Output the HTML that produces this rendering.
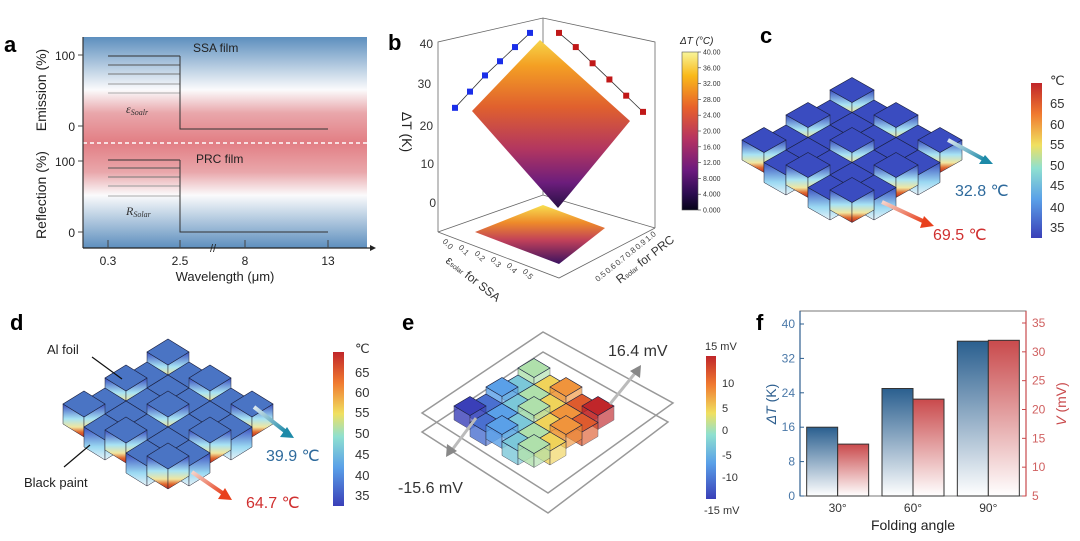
<!DOCTYPE html>
<html><head><meta charset="utf-8"><style>
html,body{margin:0;padding:0;background:#fff}
svg{display:block;font-family:"Liberation Sans",sans-serif}
</style></head><body>
<svg id="fig" width="1080" height="541" viewBox="0 0 1080 541" xmlns="http://www.w3.org/2000/svg">
<defs>
<linearGradient id="bgA" x1="0" y1="0" x2="0" y2="1">
<stop offset="0" stop-color="#5d8fbe"/><stop offset="0.25" stop-color="#fbfbfc"/><stop offset="0.36" stop-color="#e9a7ab"/><stop offset="0.5" stop-color="#e27e84"/><stop offset="0.64" stop-color="#e9a7ab"/><stop offset="0.75" stop-color="#fbfbfc"/><stop offset="1" stop-color="#5d8fbe"/>
</linearGradient>
<linearGradient id="inf" x1="0" y1="0" x2="0" y2="1">
<stop offset="0" stop-color="#f8f59a"/><stop offset="0.15" stop-color="#f9b91a"/><stop offset="0.35" stop-color="#e8612a"/><stop offset="0.55" stop-color="#b53362"/><stop offset="0.75" stop-color="#6b1a7e"/><stop offset="0.9" stop-color="#2a0b4e"/><stop offset="1" stop-color="#050318"/>
</linearGradient>
<linearGradient id="surf" x1="0" y1="0" x2="0" y2="1">
<stop offset="0" stop-color="#f6d54a"/><stop offset="0.15" stop-color="#f4a024"/><stop offset="0.4" stop-color="#e0602e"/><stop offset="0.65" stop-color="#b23660"/><stop offset="0.85" stop-color="#6c1d7c"/><stop offset="1" stop-color="#261043"/>
</linearGradient>
<linearGradient id="floor" x1="0" y1="0" x2="0" y2="1">
<stop offset="0" stop-color="#f8e050"/><stop offset="0.3" stop-color="#ee8a2a"/><stop offset="0.6" stop-color="#c0405a"/><stop offset="1" stop-color="#3a1260"/>
</linearGradient>
<linearGradient id="jet" x1="0" y1="0" x2="0" y2="1">
<stop offset="0" stop-color="#c0262a"/><stop offset="0.2" stop-color="#f07a30"/><stop offset="0.4" stop-color="#f0e060"/><stop offset="0.55" stop-color="#8fe0d0"/><stop offset="0.75" stop-color="#5aa0e8"/><stop offset="1" stop-color="#3a3fb8"/>
</linearGradient>
<linearGradient id="wallHot" x1="0" y1="0" x2="0" y2="1">
<stop offset="0" stop-color="#3a4ec0"/><stop offset="0.45" stop-color="#a8e4f4"/><stop offset="0.7" stop-color="#f0e6a0"/><stop offset="0.85" stop-color="#e06a30"/><stop offset="1" stop-color="#c02a22"/>
</linearGradient>
<linearGradient id="wallCool" x1="0" y1="0" x2="0" y2="1">
<stop offset="0" stop-color="#3a4ec0"/><stop offset="0.6" stop-color="#9ad8f2"/><stop offset="1" stop-color="#e8f4f8"/>
</linearGradient>
<linearGradient id="fBlue" x1="0" y1="0" x2="0" y2="1">
<stop offset="0" stop-color="#2a5f8f"/><stop offset="1" stop-color="#ffffff"/>
</linearGradient>
<linearGradient id="fRed" x1="0" y1="0" x2="0" y2="1">
<stop offset="0" stop-color="#c94a4c"/><stop offset="1" stop-color="#ffffff"/>
</linearGradient>
<linearGradient id="arrB" x1="0" y1="0" x2="1" y2="1"><stop offset="0" stop-color="#dde8ee"/><stop offset="1" stop-color="#1d8aa8"/></linearGradient>
<linearGradient id="arrR" x1="0" y1="0" x2="1" y2="1"><stop offset="0" stop-color="#f4d4cc"/><stop offset="1" stop-color="#e8401c"/></linearGradient>
</defs>

<!-- Panel a -->
<g>
<text x="4" y="52" font-size="22" font-weight="bold">a</text>
<rect x="83" y="37" width="284" height="211" fill="url(#bgA)"/>
<line x1="83" y1="143" x2="367" y2="143" stroke="#fff" stroke-width="1.5" stroke-dasharray="4,3"/>
<line x1="83" y1="37" x2="83" y2="248" stroke="#333" stroke-width="1.2"/>
<line x1="83" y1="248" x2="370" y2="248" stroke="#222" stroke-width="1.2"/>
<polygon points="370,245 376,248 370,251" fill="#222"/>
<g stroke="#444" stroke-width="1">
<line x1="108" y1="240" x2="108" y2="248"/><line x1="180" y1="240" x2="180" y2="248"/><line x1="245" y1="240" x2="245" y2="248"/><line x1="328" y1="240" x2="328" y2="248"/>
<line x1="78" y1="55" x2="83" y2="55"/><line x1="78" y1="126" x2="83" y2="126"/><line x1="78" y1="161" x2="83" y2="161"/><line x1="78" y1="232" x2="83" y2="232"/>
</g>
<text x="210" y="252" font-size="11" fill="#222">//</text>
<g font-size="12" fill="#222" text-anchor="end">
<text x="75" y="60">100</text><text x="75" y="131">0</text><text x="75" y="166">100</text><text x="75" y="237">0</text>
</g>
<g font-size="12" fill="#222" text-anchor="middle">
<text x="108" y="265">0.3</text><text x="180" y="265">2.5</text><text x="245" y="265">8</text><text x="328" y="265">13</text>
</g>
<text x="225" y="281" font-size="13" fill="#222" text-anchor="middle">Wavelength (μm)</text>
<text transform="translate(46,90) rotate(-90)" font-size="14" fill="#222" text-anchor="middle">Emission (%)</text>
<text transform="translate(46,195) rotate(-90)" font-size="14" fill="#222" text-anchor="middle">Reflection (%)</text>
<text x="193" y="52" font-size="12" fill="#222">SSA film</text>
<text x="196" y="163" font-size="12" fill="#222">PRC film</text>
<text x="126" y="113" font-size="12" font-style="italic" font-family="Liberation Serif,serif" fill="#333">ε<tspan font-size="8" dy="2">Soalr</tspan></text>
<text x="126" y="215" font-size="12" font-style="italic" font-family="Liberation Serif,serif" fill="#333">R<tspan font-size="8" dy="2">Solar</tspan></text>
<g stroke-width="1" fill="none">
<line x1="108" y1="56" x2="180" y2="56" stroke="#333"/><line x1="108" y1="65" x2="180" y2="65" stroke="#555"/><line x1="108" y1="74" x2="180" y2="74" stroke="#777"/><line x1="108" y1="84" x2="180" y2="84" stroke="#999"/><line x1="108" y1="93" x2="180" y2="93" stroke="#aaa"/>
<polyline points="180,56 180,129 328,129" stroke="#333"/>
</g>
<g stroke-width="1" fill="none">
<line x1="108" y1="160" x2="180" y2="160" stroke="#333"/><line x1="108" y1="168" x2="180" y2="168" stroke="#555"/><line x1="108" y1="177" x2="180" y2="177" stroke="#777"/><line x1="108" y1="186" x2="180" y2="186" stroke="#999"/><line x1="108" y1="196" x2="180" y2="196" stroke="#aaa"/>
<polyline points="180,160 180,232 328,232" stroke="#333"/>
</g>
</g>

<!-- Panel b -->
<g>
<text x="388" y="50" font-size="22" font-weight="bold">b</text>
<g stroke="#666" stroke-width="0.8" fill="none">
<polyline points="438,232 438,42 543,18 655,42 655,228"/>
<line x1="543" y1="18" x2="543" y2="195"/>
<polyline points="438,232 543,195 655,228"/>
<polyline points="438,232 559,278 655,228"/>
</g>
<polygon points="475,232 543,205 605,228 559,264" fill="url(#floor)"/>
<polygon points="540,40 630,121 558,208 472,111" fill="url(#surf)"/>
<g id="bMarks"></g>
<g font-size="12" fill="#333" text-anchor="end">
<text x="433" y="48">40</text><text x="431" y="88">30</text><text x="433" y="130">20</text><text x="434" y="168">10</text><text x="436" y="207">0</text>
</g>
<text transform="translate(402,132) rotate(90)" font-size="14" fill="#222" text-anchor="middle">ΔT (K)</text>
<g font-size="8" fill="#444">
<text transform="translate(442,242) rotate(45)">0.0</text><text transform="translate(458,248) rotate(45)">0.1</text><text transform="translate(474,254) rotate(45)">0.2</text><text transform="translate(490,260) rotate(45)">0.3</text><text transform="translate(506,266) rotate(45)">0.4</text><text transform="translate(522,272) rotate(45)">0.5</text>
</g>
<text transform="translate(445,262) rotate(38)" font-size="12" fill="#333">ε<tspan font-size="7">solar</tspan> for SSA</text>
<g font-size="8" fill="#444">
<text transform="translate(648,242) rotate(-40)">1.0</text><text transform="translate(638,250) rotate(-40)">0.9</text><text transform="translate(628,258) rotate(-40)">0.8</text><text transform="translate(618,266) rotate(-40)">0.7</text><text transform="translate(608,274) rotate(-40)">0.6</text><text transform="translate(598,282) rotate(-40)">0.5</text>
</g>
<text transform="translate(620,284) rotate(-38)" font-size="12" fill="#333">R<tspan font-size="7">solar</tspan> for PRC</text>
<rect x="682" y="52" width="16" height="158" fill="url(#inf)" stroke="#555" stroke-width="0.6"/>
<text x="680" y="44" font-size="10" font-style="italic" fill="#222">ΔT (°C)</text>
<g id="cbB" font-size="7" fill="#333"></g>
</g>

<!-- Panel c -->
<g>
<text x="760" y="43" font-size="22" font-weight="bold">c</text>
<g id="origC"></g>
<path d="M948,140 L985,160" stroke="url(#arrB)" stroke-width="4"/>
<polygon points="993,164 979,164 985,155" fill="#1d8aa8"/>
<path d="M882,202 L925,222" stroke="url(#arrR)" stroke-width="4"/>
<polygon points="934,226 920,228 924,216" fill="#e8401c"/>
<text x="955" y="196" font-size="16" fill="#2e6a9c">32.8 ℃</text>
<text x="933" y="240" font-size="16" fill="#d03030">69.5 ℃</text>
<rect x="1031" y="83" width="11" height="155" fill="url(#jet)"/>
<g font-size="13" fill="#333">
<text x="1050" y="85">℃</text><text x="1050" y="108">65</text><text x="1050" y="129">60</text><text x="1050" y="149">55</text><text x="1050" y="170">50</text><text x="1050" y="190">45</text><text x="1050" y="212">40</text><text x="1050" y="232">35</text>
</g>
</g>

<!-- Panel d -->
<g>
<text x="10" y="330" font-size="22" font-weight="bold">d</text>
<g id="origD"></g>
<line x1="92" y1="357" x2="122" y2="379" stroke="#111" stroke-width="1.2"/>
<line x1="64" y1="467" x2="90" y2="445" stroke="#111" stroke-width="1.2"/>
<text x="47" y="354" font-size="13" fill="#222">Al foil</text>
<text x="24" y="487" font-size="13" fill="#222">Black paint</text>
<path d="M254,407 L286,432" stroke="url(#arrB)" stroke-width="4"/>
<polygon points="294,438 280,437 287,427" fill="#1d8aa8"/>
<path d="M192,472 L224,494" stroke="url(#arrR)" stroke-width="4"/>
<polygon points="232,500 218,499 225,488" fill="#e8401c"/>
<text x="266" y="461" font-size="16" fill="#2e6a9c">39.9 ℃</text>
<text x="246" y="508" font-size="16" fill="#d03030">64.7 ℃</text>
<rect x="333" y="352" width="11" height="154" fill="url(#jet)"/>
<g font-size="13" fill="#333">
<text x="355" y="353">℃</text><text x="355" y="377">65</text><text x="355" y="397">60</text><text x="355" y="417">55</text><text x="355" y="438">50</text><text x="355" y="459">45</text><text x="355" y="480">40</text><text x="355" y="500">35</text>
</g>
</g>

<!-- Panel e -->
<g>
<text x="402" y="330" font-size="22" font-weight="bold">e</text>
<polygon points="422,413 543,332 673,403 548,493" fill="none" stroke="#999" stroke-width="1.5"/>
<polygon points="422,432 543,352 668,422 548,513" fill="none" stroke="#999" stroke-width="1.5"/>
<g id="origE"></g>
<line x1="610" y1="404" x2="636" y2="372" stroke="#bbb" stroke-width="3"/>
<polygon points="641,365 640,378 630,371" fill="#888"/>
<line x1="476" y1="418" x2="452" y2="450" stroke="#bbb" stroke-width="3"/>
<polygon points="446,457 447,444 457,451" fill="#888"/>
<text x="608" y="356" font-size="16" fill="#333">16.4 mV</text>
<text x="398" y="493" font-size="16" fill="#333">-15.6 mV</text>
<rect x="706" y="356" width="10" height="143" fill="url(#jet)"/>
<g font-size="11" fill="#333">
<text x="705" y="350">15 mV</text><text x="722" y="387">10</text><text x="722" y="412">5</text><text x="722" y="434">0</text><text x="722" y="459">-5</text><text x="722" y="481">-10</text><text x="704" y="514">-15 mV</text>
</g>
</g>

<!-- Panel f -->
<g id="panelF">
<text x="756" y="330" font-size="22" font-weight="bold">f</text>
<rect x="800" y="311" width="226" height="185" fill="none" stroke="#777" stroke-width="1"/>
<g id="fBars"></g>
<g id="fAxes"></g>
<text transform="translate(776,404) rotate(-90)" font-size="14" fill="#2e5f8f" text-anchor="middle"><tspan font-style="italic">ΔT</tspan> (K)</text>
<text transform="translate(1066,404) rotate(-90)" font-size="14" fill="#c94a4c" text-anchor="middle"><tspan font-style="italic">V</tspan> (mV)</text>
<text x="913" y="530" font-size="14" fill="#222" text-anchor="middle">Folding angle</text>
</g>
</svg>
<script>
var NS="http://www.w3.org/2000/svg";
function mk(p,t,a){var e=document.createElementNS(NS,t);for(var k in a)e.setAttribute(k,a[k]);p.appendChild(e);return e;}

// Panel f data
var fCategories=["30°","60°","90°"];
var fDeltaT=[16,25,36];
var fVoltage=[14,21.8,32];
var fLeftTicks=[0,8,16,24,32,40];
var fRightTicks=[5,10,15,20,25,30,35];
// Panel b data
var bSsaProjection=[23.5,27.5,31.5,35,38.5,42];
var bPrcProjection=[42,38.5,34.5,30.5,26.5,22.5];
var bColorbarTicks=["40.00","36.00","32.00","28.00","24.00","20.00","16.00","12.00","8.000","4.000","0.000"];

(function(){
 var g=document.getElementById('fBars'), ax=document.getElementById('fAxes');
 function yL(v){return 496-v*(496-324)/40;}
 function yR(v){return 496-(v-5)*(496-323)/30;}
 var x0=800,bw=226/3;
 for(var i=0;i<fCategories.length;i++){
  var cx=x0+bw*(i+0.5);
  var r=mk(g,'rect',{x:cx-31,y:yL(fDeltaT[i]),width:31,height:496-yL(fDeltaT[i]),fill:'url(#fBlue)',stroke:'#333','stroke-width':1});
  
  
  var r2=mk(g,'rect',{x:cx,y:yR(fVoltage[i]),width:31,height:496-yR(fVoltage[i]),fill:'url(#fRed)',stroke:'#333','stroke-width':1});
  
  
  var t=mk(ax,'text',{x:cx,y:512,'font-size':12,fill:'#333','text-anchor':'middle'});t.textContent=fCategories[i];
  
  
 }
 fLeftTicks.forEach(function(v){
  mk(ax,'line',{x1:800,y1:yL(v),x2:804,y2:yL(v),stroke:'#2e5f8f'});
  var t=mk(ax,'text',{x:795,y:yL(v)+4,'font-size':12,fill:'#4a78a8','text-anchor':'end'});t.textContent=v;
  
  
 });
 fRightTicks.forEach(function(v){
  mk(ax,'line',{x1:1022,y1:yR(v),x2:1026,y2:yR(v),stroke:'#c94a4c'});
  var t=mk(ax,'text',{x:1032,y:yR(v)+4,'font-size':12,fill:'#d06060'});t.textContent=v;
  
  
 });
 mk(ax,'line',{x1:1026,y1:311,x2:1026,y2:496,stroke:'#c94a4c','stroke-width':1.2});
 mk(ax,'line',{x1:800,y1:311,x2:800,y2:496,stroke:'#2e5f8f','stroke-width':1.2});
})();

(function(){
 var g=document.getElementById('bMarks');
 var pts1=[],pts2=[];
 for(var i=0;i<6;i++){
  pts1.push([455+i*15,203-bSsaProjection[i]*4.05]);
  pts2.push([559+i*16.8,203-bPrcProjection[i]*4.05]);
 }
 mk(g,'polyline',{points:pts1.map(function(p){return p.join(',')}).join(' '),fill:'none',stroke:'#333','stroke-width':0.8});
 mk(g,'polyline',{points:pts2.map(function(p){return p.join(',')}).join(' '),fill:'none',stroke:'#333','stroke-width':0.8});
 pts1.forEach(function(p){var r=mk(g,'rect',{x:p[0]-3,y:p[1]-3,width:6,height:6,fill:'#1a2ee8'});
  
  });
 pts2.forEach(function(p){var r=mk(g,'rect',{x:p[0]-3,y:p[1]-3,width:6,height:6,fill:'#c01818'});
  
  });
 var cb=document.getElementById('cbB');
 bColorbarTicks.forEach(function(s,i){var y=52+i*158/10;
  mk(cb,'line',{x1:698,y1:y,x2:701,y2:y,stroke:'#333','stroke-width':0.6});
  var t=mk(cb,'text',{x:703,y:y+2.5});t.textContent=s;});
})();

function jet(v){
 var stops=[[0,[58,63,184]],[0.25,[90,160,232]],[0.45,[143,224,208]],[0.6,[240,224,96]],[0.8,[240,122,48]],[1,[192,38,42]]];
 for(var i=1;i<stops.length;i++){if(v<=stops[i][0]){var a=stops[i-1],b=stops[i],t=(v-a[0])/(b[0]-a[0]);
  return 'rgb('+[0,1,2].map(function(k){return Math.round(a[1][k]+(b[1][k]-a[1][k])*t)}).join(',')+')';}}
 return 'rgb(192,38,42)';
}
function origami(id,cx,cy,w,h,H,n,mode){
 var g=document.getElementById(id);
 var cells=[];
 for(var i=0;i<n;i++)for(var j=0;j<n;j++)cells.push([i,j]);
 cells.sort(function(a,b){return (a[0]+a[1])-(b[0]+b[1]);});
 cells.forEach(function(c){
  var i=c[0],j=c[1];
  var x=cx+(i-j)*w, y=cy+(i+j)*h - ((i%2===0&&j%2===0)?H*0.5:0);
  var col,wall;
  if(mode==='e'){var v=(i-j+n-1)/(2*(n-1));col=jet(v);wall=col;}
  else{col=mode==='d'?'#4a74c4':'#3a4cc0';wall=((i+j)%2===0)?'url(#wallHot)':'url(#wallCool)';}
  var L=[x-w,y],B=[x,y+h],R=[x+w,y];
  mk(g,'polygon',{points:[L,B,[B[0],B[1]+H],[L[0],L[1]+H]].map(function(p){return p.join(',')}).join(' '),fill:wall,stroke:'#223','stroke-width':0.5,opacity:mode==='e'?0.8:1});
  mk(g,'polygon',{points:[B,R,[R[0],R[1]+H],[B[0],B[1]+H]].map(function(p){return p.join(',')}).join(' '),fill:wall,stroke:'#223','stroke-width':0.5,opacity:mode==='e'?0.65:1});
  var t=mk(g,'polygon',{points:[[x,y-h],R,B,L].map(function(p){return p.join(',')}).join(' '),fill:col,stroke:'#1a2040','stroke-width':0.7});
  
  
 });
}
origami('origC',852,100,22,12.5,20,5,'c');
origami('origD',168,362,21,13,20,5,'d');
origami('origE',534,375,16,9.5,14,5,'e');
</script>
</body></html>
